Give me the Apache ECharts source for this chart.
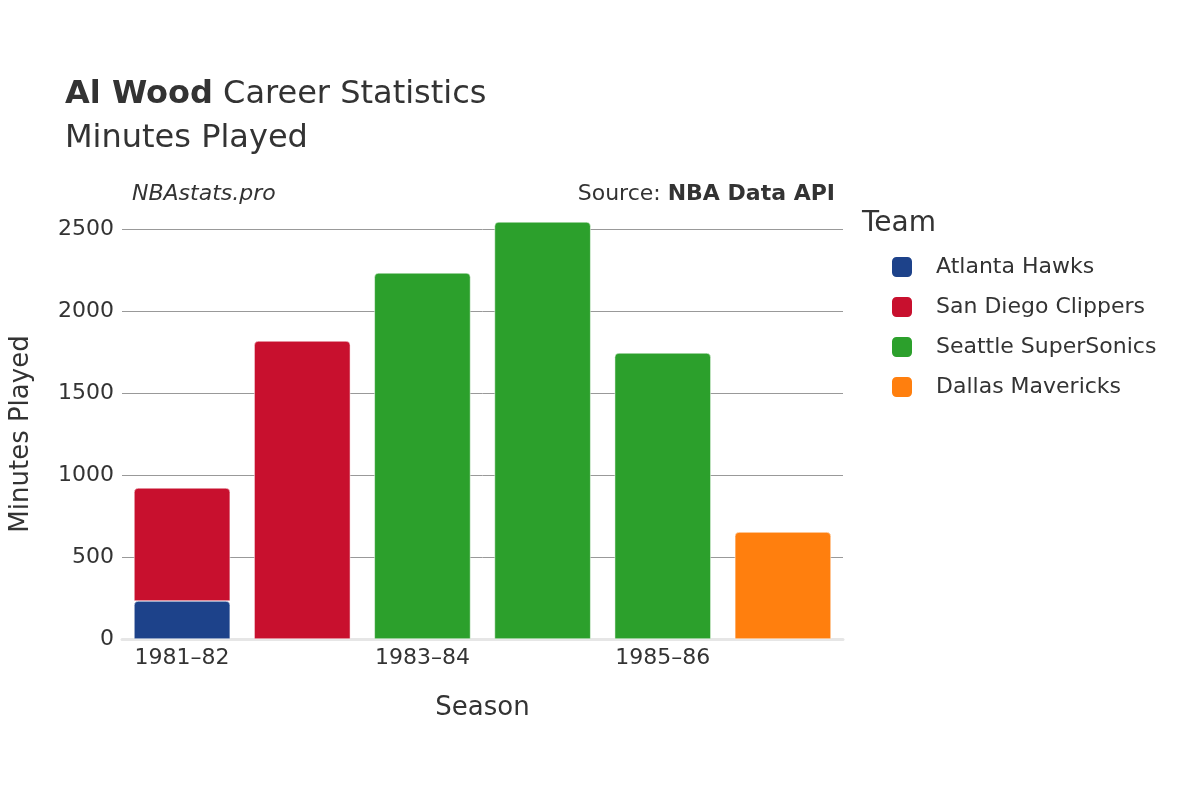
<!DOCTYPE html>
<html><head><meta charset="utf-8">
<script src="https://cdn.jsdelivr.net/npm/echarts@6/dist/echarts.min.js"></script>
<style>html,body{margin:0;padding:0;background:#fff}#c{width:1200px;height:800px}</style>
</head><body><div id="c"></div>
<script>
const seasons = ['1981–82','1982–83','1983–84','1984–85','1985–86','1986–87'];
const teams = ['Atlanta Hawks','San Diego Clippers','Seattle SuperSonics','Dallas Mavericks'];
const colors = ['#1d428a','#c8102e','#2ca02c','#ff7f0e'];
const hawks = [232, null, null, null, null, null];
const clippers = [689, 1817, null, null, null, null];
const sonics = [null, null, 2232, 2543, 1744, null];
const mavs = [null, null, null, null, null, 652];
const yTicks = [0, 500, 1000, 1500, 2000, 2500];
const values = [hawks, clippers, sonics, mavs];
const font = '"DejaVu Sans", sans-serif';
const chart = echarts.init(document.getElementById('c'));
chart.setOption({
  animation: false,
  title: [
    {text: '{b|Al Wood} Career Statistics\nMinutes Played', left: 60, top: 68,
     textStyle: {fontFamily: font, fontSize: 32, color: '#333', fontWeight: 'normal', lineHeight: 44,
       rich: {b: {fontFamily: font, fontSize: 32, fontWeight: 'bold', color: '#333'}}}},
    {text: 'NBAstats.pro', left: 127, top: 178, textStyle: {fontFamily: font, fontSize: 22, fontStyle: 'italic', fontWeight: 'normal', color: '#333'}},
    {text: 'Source: {b|NBA Data API}', right: 360, top: 178, textStyle: {fontFamily: font, fontSize: 22, fontWeight: 'normal', color: '#333', rich: {b: {fontFamily: font, fontSize: 22, fontWeight: 'bold', color: '#333'}}}}
  ],
  legend: {orient: 'vertical', left: 885, top: 250, itemWidth: 22, itemHeight: 22, itemGap: 16,
    icon: 'roundRect', data: teams,
    textStyle: {fontFamily: font, fontSize: 22, color: '#333', padding: [0,0,0,18]}},
  graphic: [{type: 'text', left: 862, top: 210, style: {text: 'Team', font: '28px ' + font, fill: '#333'}}],
  grid: {left: 122, right: 357, top: 229, bottom: 161},
  xAxis: {type: 'category', data: seasons, name: 'Season', nameLocation: 'middle', nameGap: 56,
    nameTextStyle: {fontFamily: font, fontSize: 26, color: '#333'},
    axisLine: {lineStyle: {color: '#e6e6e6', width: 3}}, axisTick: {show: false},
    axisLabel: {fontFamily: font, fontSize: 22, color: '#333', margin: 8}},
  yAxis: {type: 'value', min: 0, max: 2500, interval: 500, name: 'Minutes Played', nameLocation: 'middle', nameGap: 88,
    nameTextStyle: {fontFamily: font, fontSize: 26, color: '#333'},
    axisLabel: {fontFamily: font, fontSize: 22, color: '#333', margin: 8,
      formatter: v => yTicks.includes(v) ? String(v) : ''},
    splitLine: {lineStyle: {color: '#999', width: 1}}},
  series: values.map((d, i) => ({
    name: teams[i], type: 'bar', stack: 'total', data: d, barWidth: '80%', clip: false,
    itemStyle: {color: colors[i], borderRadius: [4,4,0,0], borderColor: '#fff', borderWidth: 0.5}
  }))
});
</script></body></html>
